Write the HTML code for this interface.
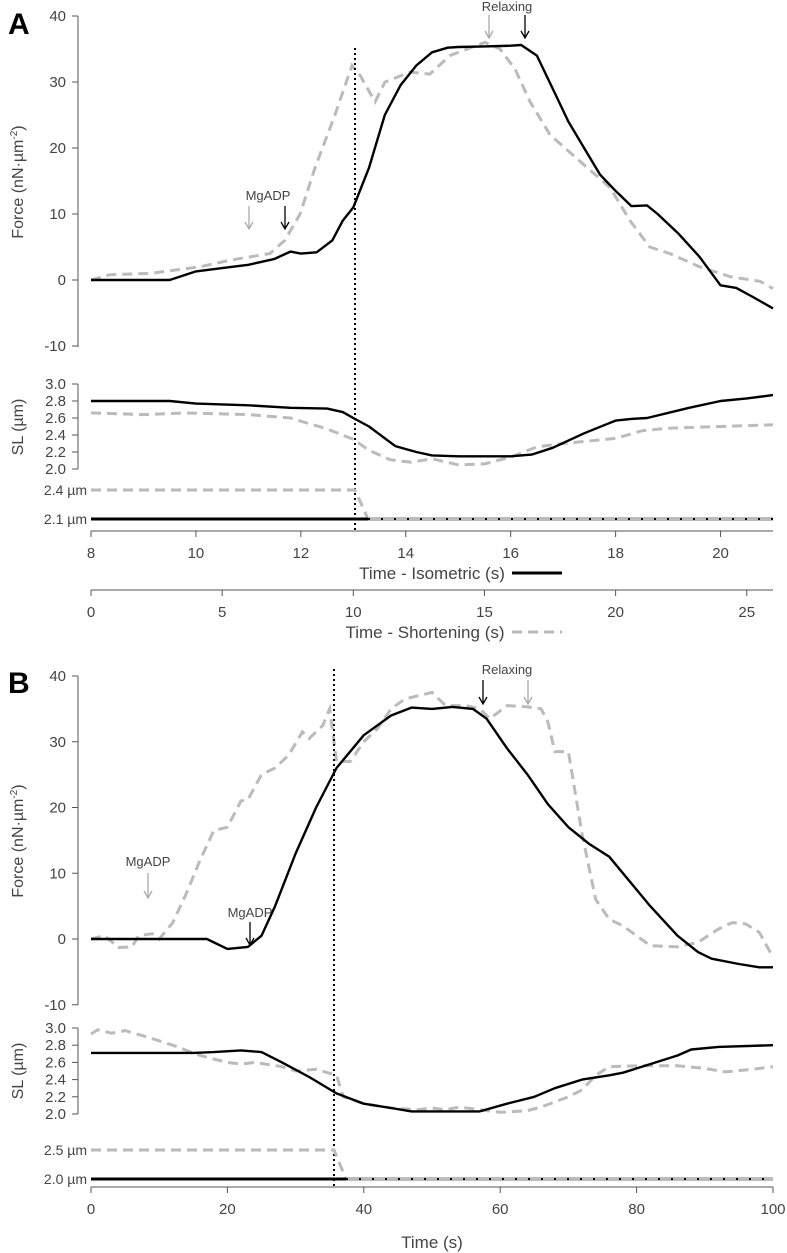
<!DOCTYPE html>
<html><head><meta charset="utf-8"><style>
body{margin:0;background:#fff}
svg{display:block;font-family:"Liberation Sans Narrow","Liberation Sans",sans-serif}
</style></head><body>
<svg id="c" width="787" height="1253" viewBox="0 0 787 1253"></svg>
<script>
// ---- Panel A data ----
const aIsoForceT=[8,9,9.5,10,10.5,11,11.5,11.8,12,12.3,12.6,12.8,13,13.3,13.6,13.9,14.2,14.5,14.8,15,15.5,16,16.2,16.5,16.8,17.1,17.4,17.7,18,18.3,18.6,18.8,19.2,19.6,20,20.3,20.6,21];
const aIsoForceV=[0,0,0,1.3,1.8,2.3,3.2,4.3,4,4.2,6,9,11,17,25,29.5,32.5,34.5,35.2,35.3,35.4,35.5,35.6,34,29,24,20,16,13.5,11.2,11.3,10,7,3.5,-0.8,-1.2,-2.5,-4.3];
const aShForceT=[0,0.72,2.25,4.16,5.3,6.06,6.82,7.39,7.97,8.54,9.3,9.95,10.26,10.83,11.21,12.16,12.92,13.68,15.02,15.59,16.16,16.74,17.5,18.64,19.79,20.55,21.3,22.07,23.2,24.36,25.5,26];
const aShForceV=[0,0.8,1,2,3,3.5,4,6,10,17,25,32.5,31,27,30,31.5,31.2,34,36,35,32,27,22,18,14,9,5,4,2,0.5,-0.2,-1.3];
const aIsoSLT=[8,9.5,10,11,11.8,12.5,12.8,13,13.3,13.8,14.2,14.5,15,15.5,16,16.4,16.8,17.4,17.8,18,18.3,18.6,19.4,20,20.5,21];
const aIsoSLV=[2.8,2.8,2.77,2.75,2.72,2.71,2.67,2.6,2.5,2.27,2.2,2.16,2.15,2.15,2.15,2.17,2.25,2.42,2.52,2.57,2.59,2.6,2.72,2.8,2.83,2.87];
const aShSLT=[0,2,3.6,6,7.6,9,10,10.6,11.4,12.2,13,14,15,16,17,18,20,21,22,24,26];
const aShSLV=[2.66,2.64,2.66,2.64,2.6,2.47,2.35,2.22,2.11,2.08,2.12,2.05,2.06,2.14,2.26,2.3,2.36,2.45,2.48,2.5,2.52];
const aForceTicks=[40,30,20,10,0,-10];
const aSLTicks=["3.0","2.8","2.6","2.4","2.2","2.0"];
const aIsoTicks=[8,10,12,14,16,18,20];
const aShTicks=[0,5,10,15,20,25];
// ---- Panel B data ----
const bBlackForceT=[0,17,20,23,25,27,30,33,36,40,44,47,50,53,56,58,61,64,67,70,73,76,78,82,86,89,91,95,98,100];
const bBlackForceV=[0,0,-1.5,-1.2,0.5,5,13,20,26,31,34,35.2,35,35.3,35,33.5,29,25,20.5,17,14.5,12.5,10,5,0.5,-2,-3,-3.8,-4.3,-4.3];
const bGrayForceT=[0,2,4,6,7,9,10,12,14,16,18,20,22,23,25,27,29,31,32,34,35,36,38,40,42,44,46,48,50,52,55,57,58.5,61,64,66,67,68,70,72,74,76,78,82,86,89,92,94,96,98,100];
const bGrayForceV=[0,0.5,-1.3,-1.2,0.5,0.8,0,2.5,7,12,16.5,17,21,21.2,25,26,28,31.5,30.5,32.5,35,27,27,30,32,35,36.5,37,37.5,35.5,35.5,35,33.5,35.5,35.3,35,33,28.5,28.5,16,6,3,2,-1,-1.2,-0.5,1.5,2.5,2.3,1,-2.8];
const bBlackSLT=[0,15,18,22,25,28,32,36,40,44,47,52,57,61,65,68,72,76,78,82,86,88,92,100];
const bBlackSLV=[2.71,2.71,2.72,2.74,2.72,2.6,2.43,2.24,2.12,2.07,2.03,2.03,2.03,2.12,2.2,2.3,2.4,2.45,2.48,2.58,2.68,2.75,2.78,2.8];
const bGraySLT=[0,1,3,5,8,12,16,20,22,24,28,30,33,36,37,40,44,48,50,52,54,56,60,64,66,70,72,74,76,80,86,90,93,97,100];
const bGraySLV=[2.93,2.98,2.94,2.97,2.9,2.8,2.68,2.6,2.58,2.6,2.55,2.5,2.52,2.45,2.2,2.12,2.07,2.05,2.07,2.05,2.08,2.06,2.02,2.04,2.08,2.2,2.28,2.45,2.55,2.56,2.56,2.53,2.49,2.52,2.55];
const bTimeTicks=[0,20,40,60,80,100];

const svg=document.getElementById('c');
const NS='http://www.w3.org/2000/svg';
const AX=78;
function mk(tag,attrs,name,parent){const e=document.createElementNS(NS,tag);for(const k in attrs)e.setAttribute(k,attrs[k]);


(parent||svg).appendChild(e);return e;}
function txt(x,y,s,name,opt){const e=mk('text',Object.assign({x:x,y:y,'font-size':15,fill:'#444'},opt||{}),name);e.textContent=s;return e;}
function lin(a,b,c,d){return (v)=>c+(v-a)*(d-c)/(b-a);}
function path(T,V,sx,sy,name,style){let d='';for(let i=0;i<T.length;i++)d+=(i?'L':'M')+sx(T[i]).toFixed(1)+','+sy(V[i]).toFixed(1);
return mk('path',Object.assign({d:d,fill:'none'},style),name);}
const BLK={stroke:'#000','stroke-width':2.4,'stroke-linejoin':'round'};
const GRY={stroke:'#bbb','stroke-width':3,'stroke-dasharray':'10,6'};
function arrow(x,y1,y2,col,name){mk('path',{d:`M${x},${y1}L${x},${y2}M${x-4},${y2-7}L${x},${y2}L${x+4},${y2-7}`,stroke:col,'stroke-width':1.3,fill:'none'},name);}
function yaxis(x,y1,y2,ticks,sy,name){mk('line',{x1:x,y1:y1,x2:x,y2:y2,stroke:'#555'},name+'-line');
ticks.forEach(t=>{const y=sy(+t);mk('line',{x1:x-6,y1:y,x2:x,y2:y,stroke:'#555'},name+'-tick');txt(x-12,y+5,String(t),name+'-label',{'text-anchor':'end'});});}
function xaxis(y,x1,x2,ticks,sx,name){mk('line',{x1:x1,y1:y,x2:x2,y2:y,stroke:'#555'},name+'-line');
ticks.forEach(t=>{const x=sx(t);mk('line',{x1:x,y1:y,x2:x,y2:y+6,stroke:'#555'},name+'-tick');txt(x,y+27,String(t),name+'-label',{'text-anchor':'middle'});});}
function stepTraces(x0,xd,xg,yHi,yLo,hiLab,loLab,pre){
  txt(87,yHi+5,hiLab,pre+'-step-high-label',{'text-anchor':'end','font-size':14});
  txt(87,yLo+5,loLab,pre+'-step-low-label',{'text-anchor':'end','font-size':14});
  mk('path',{d:`M${x0},${yHi}L${xd},${yHi}L${xg},${yLo}L773,${yLo}`,fill:'none',stroke:'#bbb','stroke-width':3,'stroke-dasharray':'10,6'},pre+'-step-shortening');
  mk('line',{x1:x0,y1:yLo,x2:xg,y2:yLo,stroke:'#000','stroke-width':3},pre+'-step-isometric');
  mk('line',{x1:xg,y1:yLo,x2:773,y2:yLo,stroke:'#bbb','stroke-width':4},pre+'-step-overlap');
  mk('line',{x1:xg,y1:yLo,x2:773,y2:yLo,stroke:'#000','stroke-width':2,'stroke-dasharray':'2,11'},pre+'-step-overlap-dots');
}
function forceTitle(cy,name){const t=txt(0,0,'',name,{transform:`translate(23,${cy}) rotate(-90)`,'text-anchor':'middle','font-size':16});
t.innerHTML='Force (nN·µm<tspan dy="-6" font-size="10">-2</tspan><tspan dy="6">)</tspan>';}

// ===== Panel A =====
txt(8,34,'A','panel-a-label',{'font-size':30,'font-weight':'bold',fill:'#000',style:'font-family:"Liberation Sans",sans-serif'});
const axIso=lin(8,21,91,773), axSh=lin(0,26,91,773);
const aFy=lin(0,40,280,16), aSy=lin(2,3,469,384);
yaxis(AX,16,347,aForceTicks,aFy,'a-force-axis');
yaxis(AX,384,469,aSLTicks,aSy,'a-sl-axis');
forceTitle(182,'a-force-title');
txt(0,0,'SL (µm)','a-sl-title',{transform:'translate(23,427) rotate(-90)','text-anchor':'middle','font-size':16});
path(aShForceT,aShForceV,axSh,aFy,'a-force-shortening',GRY);
path(aIsoForceT,aIsoForceV,axIso,aFy,'a-force-isometric',BLK);
path(aShSLT,aShSLV,axSh,aSy,'a-sl-shortening',GRY);
path(aIsoSLT,aIsoSLV,axIso,aSy,'a-sl-isometric',BLK);
mk('line',{x1:355,y1:48,x2:355,y2:531,stroke:'#000','stroke-width':2,'stroke-dasharray':'2,3'},'a-dotted-marker');
stepTraces(91,355,368,490,519,'2.4 µm','2.1 µm','a');
xaxis(531,91,773,aIsoTicks,axIso,'a-iso-axis');
txt(432,579,'Time - Isometric (s)','a-iso-title',{'text-anchor':'middle','font-size':17});
mk('line',{x1:512,y1:573,x2:562,y2:573,stroke:'#000','stroke-width':3},'a-iso-legend-line');
xaxis(590,91,773,aShTicks,axSh,'a-sh-axis');
txt(425,638,'Time - Shortening (s)','a-sh-title',{'text-anchor':'middle','font-size':17});
mk('line',{x1:512,y1:632,x2:562,y2:632,stroke:'#bbb','stroke-width':3,'stroke-dasharray':'10,6'},'a-sh-legend-line');
txt(268,200,'MgADP','a-mgadp-label',{'text-anchor':'middle','font-size':13});
arrow(249,206,229,'#aaa','a-mgadp-arrow-shortening');
arrow(285,206,229,'#000','a-mgadp-arrow-isometric');
txt(507,11,'Relaxing','a-relaxing-label',{'text-anchor':'middle','font-size':13});
arrow(489,15,38,'#aaa','a-relaxing-arrow-shortening');
arrow(525,15,38,'#000','a-relaxing-arrow-isometric');

// ===== Panel B =====
txt(8,693,'B','panel-b-label',{'font-size':30,'font-weight':'bold',fill:'#000',style:'font-family:"Liberation Sans",sans-serif'});
const bx=lin(0,100,91,773);
const bFy=lin(0,40,939,676), bSy=lin(2,3,1114,1028);
yaxis(AX,676,1005,aForceTicks,bFy,'b-force-axis');
yaxis(AX,1028,1114,aSLTicks,bSy,'b-sl-axis');
forceTitle(841,'b-force-title');
txt(0,0,'SL (µm)','b-sl-title',{transform:'translate(23,1071) rotate(-90)','text-anchor':'middle','font-size':16});
path(bGrayForceT,bGrayForceV,bx,bFy,'b-force-shortening',GRY);
path(bBlackForceT,bBlackForceV,bx,bFy,'b-force-isometric',BLK);
path(bGraySLT,bGraySLV,bx,bSy,'b-sl-shortening',GRY);
path(bBlackSLT,bBlackSLV,bx,bSy,'b-sl-isometric',BLK);
mk('line',{x1:334,y1:669,x2:334,y2:1187,stroke:'#000','stroke-width':2,'stroke-dasharray':'2,3'},'b-dotted-marker');
stepTraces(91,334,346,1150,1179,'2.5 µm','2.0 µm','b');
xaxis(1187,91,773,bTimeTicks,bx,'b-time-axis');
txt(432,1248,'Time (s)','b-time-title',{'text-anchor':'middle','font-size':17});
txt(148,866,'MgADP','b-mgadp-label-shortening',{'text-anchor':'middle','font-size':13});
arrow(148,873,898,'#aaa','b-mgadp-arrow-shortening');
txt(250,917,'MgADP','b-mgadp-label-isometric',{'text-anchor':'middle','font-size':13});
arrow(250,922,945,'#000','b-mgadp-arrow-isometric');
txt(507,674,'Relaxing','b-relaxing-label',{'text-anchor':'middle','font-size':13});
arrow(483,680,704,'#000','b-relaxing-arrow-isometric');
arrow(528,680,704,'#aaa','b-relaxing-arrow-shortening');
</script>
</body></html>
